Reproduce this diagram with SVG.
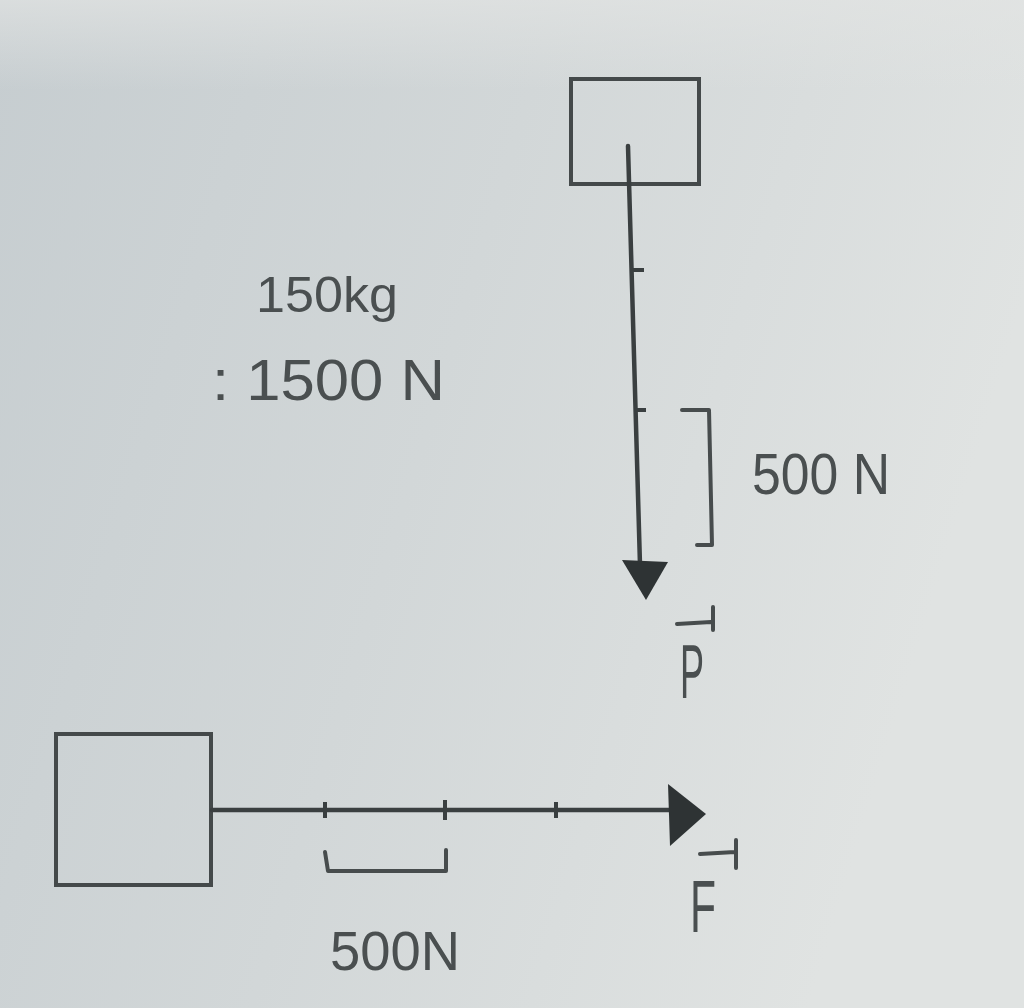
<svg xmlns="http://www.w3.org/2000/svg" width="1024" height="1008" viewBox="0 0 1024 1008">
<defs>
<linearGradient id="bg" x1="0" y1="0" x2="1" y2="0.3">
<stop offset="0" stop-color="#c6cdd0"/>
<stop offset="0.5" stop-color="#d2d7d8"/>
<stop offset="1" stop-color="#e0e3e2"/>
</linearGradient>
<linearGradient id="topband" x1="0" y1="0" x2="0" y2="1">
<stop offset="0" stop-color="#e2e4e3" stop-opacity="0.7"/>
<stop offset="0.5" stop-color="#e2e4e3" stop-opacity="0.35"/>
<stop offset="1" stop-color="#e2e4e3" stop-opacity="0"/>
</linearGradient>
<style>
.box{fill:none;stroke:#44494a;stroke-width:4}
.ln{fill:none;stroke:#3a3f40;stroke-width:4.5;stroke-linecap:round}
.tick{fill:none;stroke:#3a3f40;stroke-width:4}
.br{fill:none;stroke:#474c4d;stroke-width:4;stroke-linejoin:round;stroke-linecap:round}
.hd{fill:#2e3334}
.t{font-family:"Liberation Sans","DejaVu Sans",sans-serif;fill:#4a4f50}
</style>
</defs>
<rect width="1024" height="1008" fill="url(#bg)"/>
<rect width="1024" height="90" fill="url(#topband)"/>
<g id="box-top"><rect class="box" x="571" y="79" width="128" height="105"/></g>
<g id="box-bottom"><rect class="box" x="56" y="734" width="155" height="151"/></g>
<g id="connectors">
<path class="ln" d="M628,146 L640,565"/>
<path class="hd" d="M622,560 L668,562 L646,600 Z"/>
<path class="tick" d="M632,270 L644,270 M634,410 L646,410"/>
<path class="br" d="M682,410 L709,410 L712,545 L697,545"/>
<path class="ln" d="M212,810 L672,810"/>
<path class="hd" d="M668,784 L706,814 L670,846 Z"/>
<path class="tick" d="M325,802 L325,818 M445,800 L445,820 M556,802 L556,818"/>
<path class="br" d="M325,852 L328,871 L446,871 L446,850"/>
</g>
<g id="labels">
<text class="t" x="256" y="312" font-size="50" textLength="142" lengthAdjust="spacingAndGlyphs">150kg</text>
<text class="t" x="212" y="400" font-size="58" textLength="233" lengthAdjust="spacingAndGlyphs">: 1500 N</text>
<text class="t" x="752" y="494" font-size="58" textLength="138" lengthAdjust="spacingAndGlyphs">500 N</text>
<text class="t" x="330" y="970" font-size="56" textLength="130" lengthAdjust="spacingAndGlyphs">500N</text>
<g id="label-P">
<text class="t" x="680" y="698" font-size="76" textLength="24" lengthAdjust="spacingAndGlyphs">P</text>
<path class="br" d="M677,624 L711,622 M713,607 L713,630" stroke-width="3.5"/>
</g>
<g id="label-F">
<text class="t" x="690" y="932" font-size="74" textLength="26" lengthAdjust="spacingAndGlyphs">F</text>
<path class="br" d="M700,854 L735,852 M736,840 L736,868" stroke-width="3.5"/>
</g>
</g>
</svg>
